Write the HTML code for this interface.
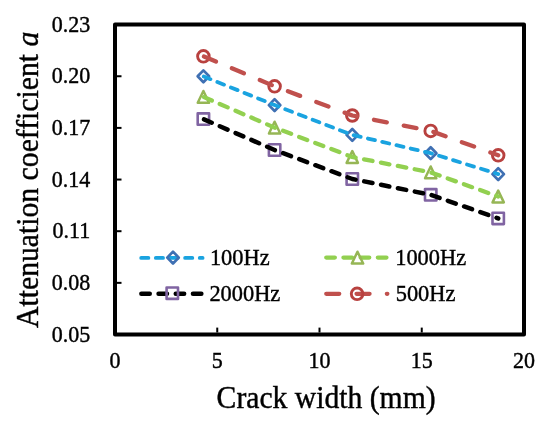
<!DOCTYPE html>
<html><head><meta charset="utf-8">
<style>
html,body{margin:0;padding:0;background:#fff;}
svg{display:block;}
text{font-family:"Liberation Serif","Times New Roman",serif;fill:#000;stroke:#000;stroke-width:0.4px;}
</style></head>
<body>
<svg width="550" height="425" viewBox="0 0 550 425">
<rect x="115" y="24.6" width="409" height="309.9" fill="none" stroke="#000" stroke-width="4" stroke-linejoin="round"/>
<g stroke="#000" stroke-width="2">
<line x1="117" x2="121.5" y1="76.25" y2="76.25"/>
<line x1="117" x2="121.5" y1="127.9" y2="127.9"/>
<line x1="117" x2="121.5" y1="179.55" y2="179.55"/>
<line x1="117" x2="121.5" y1="231.2" y2="231.2"/>
<line x1="117" x2="121.5" y1="282.85" y2="282.85"/>
<line x1="217.25" x2="217.25" y1="332.5" y2="327.6"/>
<line x1="319.5" x2="319.5" y1="332.5" y2="327.6"/>
<line x1="421.75" x2="421.75" y1="332.5" y2="327.6"/>
</g>

<text transform="translate(90.3,31.80) scale(1,1.045)" font-size="22" text-anchor="end">0.23</text>
<text transform="translate(90.3,83.45) scale(1,1.045)" font-size="22" text-anchor="end">0.20</text>
<text transform="translate(90.3,135.10) scale(1,1.045)" font-size="22" text-anchor="end">0.17</text>
<text transform="translate(90.3,186.75) scale(1,1.045)" font-size="22" text-anchor="end">0.14</text>
<text transform="translate(90.3,238.40) scale(1,1.045)" font-size="22" text-anchor="end">0.11</text>
<text transform="translate(90.3,290.05) scale(1,1.045)" font-size="22" text-anchor="end">0.08</text>
<text transform="translate(90.3,341.70) scale(1,1.045)" font-size="22" text-anchor="end">0.05</text>
<text transform="translate(115.00,367.9) scale(1,1.045)" font-size="22" text-anchor="middle">0</text>
<text transform="translate(217.25,367.9) scale(1,1.045)" font-size="22" text-anchor="middle">5</text>
<text transform="translate(319.50,367.9) scale(1,1.045)" font-size="22" text-anchor="middle">10</text>
<text transform="translate(421.75,367.9) scale(1,1.045)" font-size="22" text-anchor="middle">15</text>
<text transform="translate(524.00,367.9) scale(1,1.045)" font-size="22" text-anchor="middle">20</text>
<text transform="translate(326.1,408.2) scale(1,1.045)" font-size="29.65" text-anchor="middle">Crack width (mm)</text>
<text transform="translate(37.9,179.85) rotate(-90) scale(1,1.05)" font-size="29.7" text-anchor="middle">Attenuation coefficient <tspan font-style="italic">a</tspan></text>
<g fill="none" stroke-width="2.8" stroke-linejoin="round">
<g stroke="#B8413F" stroke-width="2.9"><circle cx="203.40" cy="56.30" r="5.8"/><circle cx="274.60" cy="86.30" r="5.8"/><circle cx="352.30" cy="115.50" r="5.8"/><circle cx="430.70" cy="130.90" r="5.8"/><circle cx="498.20" cy="155.30" r="5.8"/></g>
<g stroke="#3F70B3" stroke-width="2.7"><path d="M203.40,70.35 L209.15,76.30 L203.40,82.25 L197.65,76.30 Z"/><path d="M274.60,99.15 L280.35,105.10 L274.60,111.05 L268.85,105.10 Z"/><path d="M352.30,128.95 L358.05,134.90 L352.30,140.85 L346.55,134.90 Z"/><path d="M430.70,147.25 L436.45,153.20 L430.70,159.15 L424.95,153.20 Z"/><path d="M498.20,168.15 L503.95,174.10 L498.20,180.05 L492.45,174.10 Z"/></g>
<g stroke="#96B655" stroke-width="2.5"><path d="M203.40,91.00 L209.05,102.80 L197.75,102.80 Z"/><path d="M274.60,121.70 L280.25,133.50 L268.95,133.50 Z"/><path d="M352.30,151.10 L357.95,162.90 L346.65,162.90 Z"/><path d="M430.70,166.50 L436.35,178.30 L425.05,178.30 Z"/><path d="M498.20,190.60 L503.85,202.40 L492.55,202.40 Z"/></g>
<g stroke="#8064A2" stroke-width="2.6"><rect x="197.70" y="113.40" width="11.4" height="11.4"/><rect x="268.90" y="144.30" width="11.4" height="11.4"/><rect x="346.60" y="173.30" width="11.4" height="11.4"/><rect x="425.00" y="189.10" width="11.4" height="11.4"/><rect x="492.50" y="212.70" width="11.4" height="11.4"/></g>
</g>
<g fill="none" stroke-linecap="round" stroke-linejoin="round">
<polyline points="203.4,56.3 274.6,86.3 352.3,115.5 430.7,130.9 498.2,155.3" stroke="#C0504D" stroke-width="4.3" stroke-dasharray="13.00 17.30" stroke-dashoffset="-0.6"/>
<polyline points="203.4,76.3 274.6,105.1 352.3,134.9 430.7,153.2 498.2,174.1" stroke="#1AA3E0" stroke-width="3.8" stroke-dasharray="7.20 7.44" stroke-dashoffset="-0.4"/>
<polyline points="203.4,96.9 274.6,127.6 352.3,157.0 430.7,172.4 498.2,196.5" stroke="#92D050" stroke-width="4.3" stroke-dasharray="8.60 8.60" stroke-dashoffset="-0.6"/>
<polyline points="203.4,119.1 274.6,150.0 352.3,179.0 430.7,194.8 498.2,218.4" stroke="#000000" stroke-width="4.5" stroke-dasharray="8.40 8.80" stroke-dashoffset="-0.7"/>
</g>
<g fill="none" stroke-linecap="round">
<line x1="139.3" x2="202.60" y1="257.9" y2="257.9" stroke="#1AA3E0" stroke-width="3.8" stroke-dasharray="7.20 7.44" stroke-dashoffset="-1.90"/>
<line x1="139.1" x2="202.05" y1="293.7" y2="293.7" stroke="#000000" stroke-width="4.5" stroke-dasharray="8.40 8.80" stroke-dashoffset="-2.25"/>
<line x1="324.1" x2="387.25" y1="257.6" y2="257.6" stroke="#92D050" stroke-width="4.3" stroke-dasharray="8.60 8.60" stroke-dashoffset="-2.15"/>
<line x1="324.1" x2="387.35" y1="293.8" y2="293.8" stroke="#C0504D" stroke-width="4.3" stroke-dasharray="13.00 17.30" stroke-dashoffset="-2.15"/>
</g>
<g fill="none" stroke-width="2.8" stroke-linejoin="round">
<path d="M173.00,251.65 L178.75,257.60 L173.00,263.55 L167.25,257.60 Z" stroke="#3F70B3" stroke-width="2.7"/>
<rect x="166.60" y="287.50" width="11.4" height="11.4" stroke="#8064A2" stroke-width="2.6"/>
<path d="M357.50,251.70 L363.15,263.50 L351.85,263.50 Z" stroke="#96B655" stroke-width="2.5"/>
<circle cx="357.10" cy="293.80" r="5.8" stroke="#B8413F" stroke-width="2.9"/>
</g>
<text transform="translate(209.9,264.5) scale(1,1.026)" font-size="22.4">100Hz</text>
<text transform="translate(209.4,300.5) scale(1,1.026)" font-size="22.4">2000Hz</text>
<text transform="translate(395.2,264.5) scale(1,1.026)" font-size="22.4">1000Hz</text>
<text transform="translate(395.7,300.5) scale(1,1.026)" font-size="22.4">500Hz</text>
</svg>
</body></html>
